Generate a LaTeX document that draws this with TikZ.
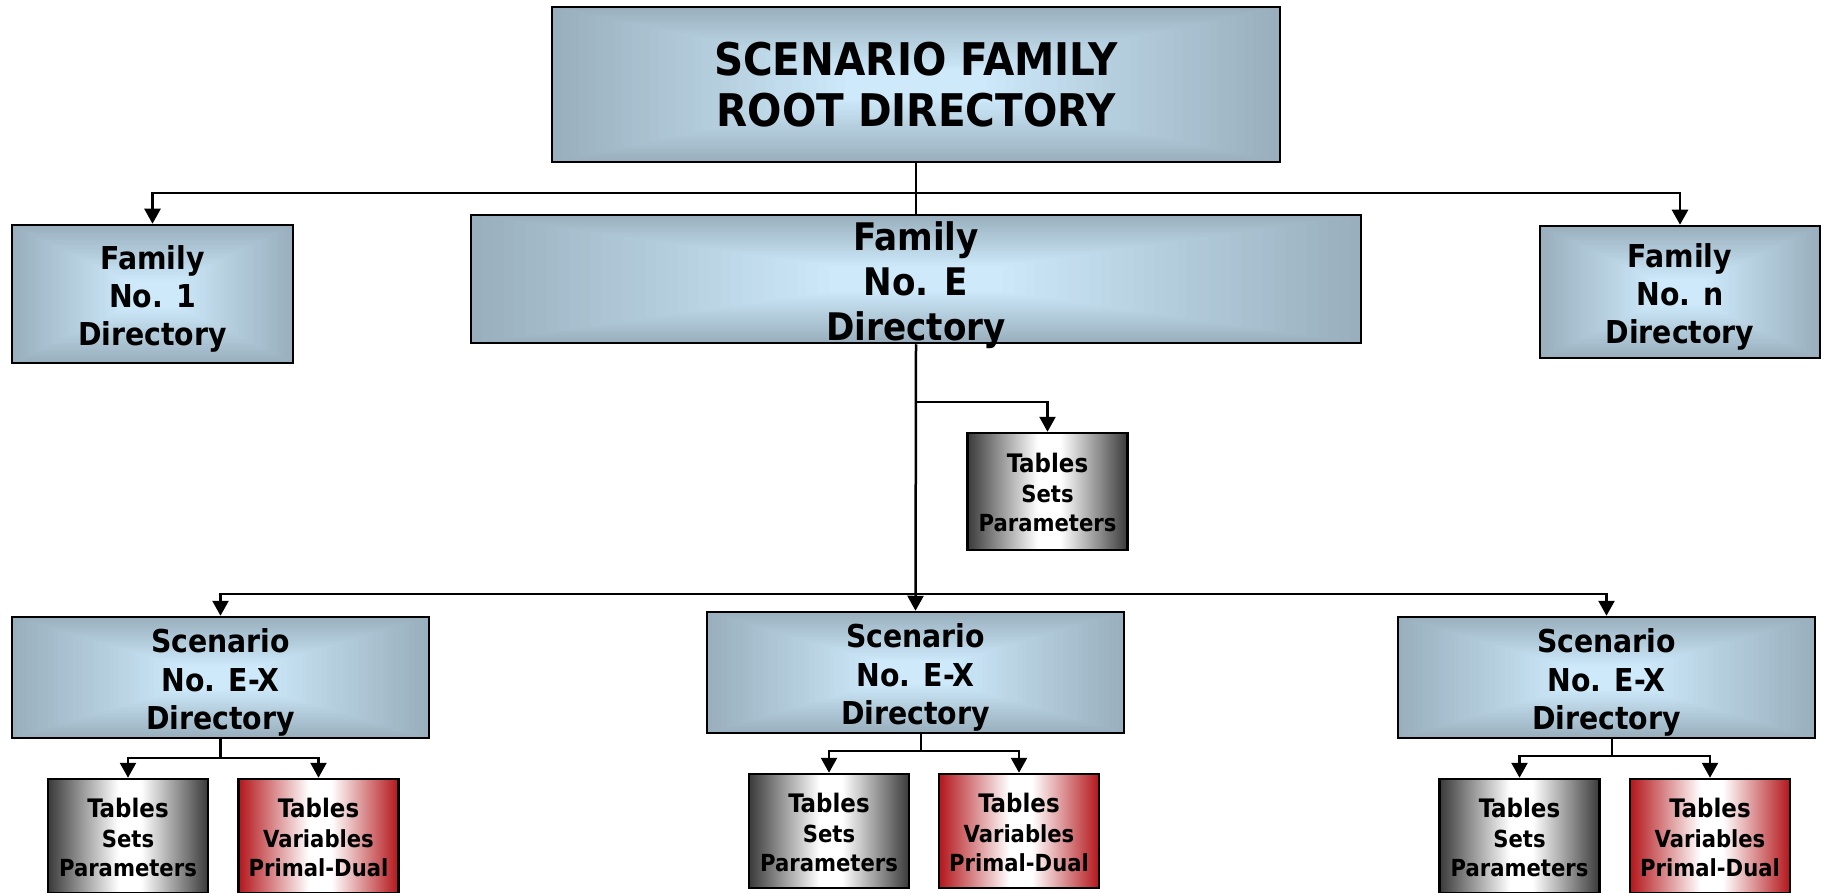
\documentclass[tikz,border=0pt]{standalone}
\usepackage{fontspec}
\setmainfont{DejaVu Sans Condensed}
\usetikzlibrary{arrows.meta,calc}
\definecolor{bluein}{HTML}{CDE9FA}
\definecolor{blueout}{HTML}{99AFBD}
\definecolor{grayedge}{HTML}{3A3A3A}
\definecolor{rededge}{HTML}{B3161B}
\pgfdeclarehorizontalshading{grayband}{100bp}{color(0bp)=(grayedge); color(25bp)=(grayedge); color(47bp)=(white); color(54bp)=(white); color(75bp)=(grayedge); color(100bp)=(grayedge)}
\pgfdeclarehorizontalshading{redband}{100bp}{color(0bp)=(rededge); color(25bp)=(rededge); color(47bp)=(white); color(54bp)=(white); color(75bp)=(rededge); color(100bp)=(rededge)}
% rectangular gradient from the centre (nested rectangles)
\newcommand{\pillow}{%
  \foreach \k in {0,...,40}{%
    \pgfmathsetmacro{\pillowt}{1-\k/41}%
    \pgfmathtruncatemacro{\pillowp}{min(100,100*\k/33)}%
    \fill[bluein!\pillowp!blueout]
      ($(path picture bounding box.center)!\pillowt!(path picture bounding box.south west)$)
      rectangle
      ($(path picture bounding box.center)!\pillowt!(path picture bounding box.north east)$);
  }}
\tikzset{
  box/.style={draw=black, line width=2.5pt, inner sep=0pt, align=center},
  bluebox/.style={box, fill=blueout, path picture={\pillow}},
  graybox/.style={box, shade, shading=grayband, minimum width=160pt, minimum height=114pt, font=\bfseries\fontsize{23.5}{29.7}\selectfont},
  redbox/.style={box, shade, shading=redband, minimum width=160pt, minimum height=114pt, font=\bfseries\fontsize{23.5}{29.7}\selectfont},
  famtxt/.style={font=\bfseries\fontsize{31.5}{38}\selectfont},
  sctxt/.style={bluebox, minimum width=417pt, minimum height=121pt, font=\bfseries\fontsize{31.5}{38.4}\selectfont},
  conn/.style={line width=2.5pt},
  arr/.style={line width=2.5pt, -{Triangle[length=15pt,width=16pt]}}
}
% shift a text block down by #1 without changing its overall size
\newcommand{\fstl}[2]{\raisebox{0pt}[\dimexpr\height+#1\relax][\depth]{#2}}
\newcommand{\lstl}[2]{\raisebox{0pt}[\height][\dimexpr\depth-#1\relax]{#2}}
\newcommand{\bigT}[1]{\fstl{#1}{\fontsize{25.5}{29.7}\selectfont Tables}}
\begin{document}
\begin{tikzpicture}[x=1pt,y=-1pt]
\useasboundingbox (0,0) rectangle (1825,893);
\fill[white] (0,0) rectangle (1825,893);
% top level
\node[bluebox, minimum width=728pt, minimum height=155pt, font=\bfseries\fontsize{45}{51}\selectfont] (root) at (916,84.5) {SCENARIO FAMILY\\ROOT DIRECTORY};
\node[bluebox, famtxt, minimum width=281pt, minimum height=138pt] (fam1) at (152.5,294) {\fstl{5pt}{Family}\\No. 1\\\lstl{5pt}{Directory}};
\node[bluebox, minimum width=890pt, minimum height=128pt, font=\bfseries\fontsize{38}{45}\selectfont] (famE) at (916,279) {\fstl{6pt}{Family}\\No. E\\\lstl{6pt}{Directory}};
\node[bluebox, famtxt, minimum width=280pt, minimum height=132pt] (famN) at (1680,292) {\fstl{5pt}{Family}\\No. n\\\lstl{5pt}{Directory}};
\node[graybox, minimum height=117pt] (tabE) at (1047.5,491.5) {\bigT{2pt}\\Sets\\\lstl{2pt}{Parameters}};
% scenarios
\node[sctxt] (scL) at (220.5,677.5) {\fstl{5pt}{Scenario}\\No. E-X\\\lstl{5pt}{Directory}};
\node[sctxt] (scM) at (915.5,672.5) {\fstl{5pt}{Scenario}\\No. E-X\\\lstl{5pt}{Directory}};
\node[sctxt] (scR) at (1606.5,677.5) {\fstl{5pt}{Scenario}\\No. E-X\\\lstl{5pt}{Directory}};
% bottom tables
\node[graybox] (gL) at (128,836) {\bigT{3pt}\\Sets\\\lstl{3pt}{Parameters}};
\node[redbox] (rL) at (318.5,836) {\bigT{3pt}\\Variables\\\lstl{3pt}{Primal-Dual}};
\node[graybox] (gM) at (829,831) {\bigT{3pt}\\Sets\\\lstl{3pt}{Parameters}};
\node[redbox] (rM) at (1019,831) {\bigT{3pt}\\Variables\\\lstl{3pt}{Primal-Dual}};
\node[graybox] (gR) at (1519.5,836) {\bigT{3pt}\\Sets\\\lstl{3pt}{Parameters}};
\node[redbox] (rR) at (1710,836) {\bigT{3pt}\\Variables\\\lstl{3pt}{Primal-Dual}};
% connectors
\coordinate (busTop) at (916,193);
\coordinate (brE) at (916,402);
\coordinate (busSc) at (916,594);
\coordinate (jL) at (220.5,758);
\coordinate (jM) at (921,751);
\coordinate (jR) at (1612,756);
\draw[conn] (root.south) -- (famE.north);
\draw[arr] (busTop) -| (fam1.north);
\draw[arr] (busTop) -| (famN.north);
\draw[arr] (famE.south) -- (scM.north);
\draw[arr] (brE) -| (tabE.north);
\draw[arr] (busSc) -| (scL.north);
\draw[arr] (busSc) -| (scR.north);
\draw[conn] (scL.south) -- (jL);
\draw[arr] (jL) -| (gL.north);
\draw[arr] (jL) -| (rL.north);
\draw[conn] (jM |- scM.south) -- (jM);
\draw[arr] (jM) -| (gM.north);
\draw[arr] (jM) -| (rM.north);
\draw[conn] (jR |- scR.south) -- (jR);
\draw[arr] (jR) -| (gR.north);
\draw[arr] (jR) -| (rR.north);
\end{tikzpicture}
\end{document}
